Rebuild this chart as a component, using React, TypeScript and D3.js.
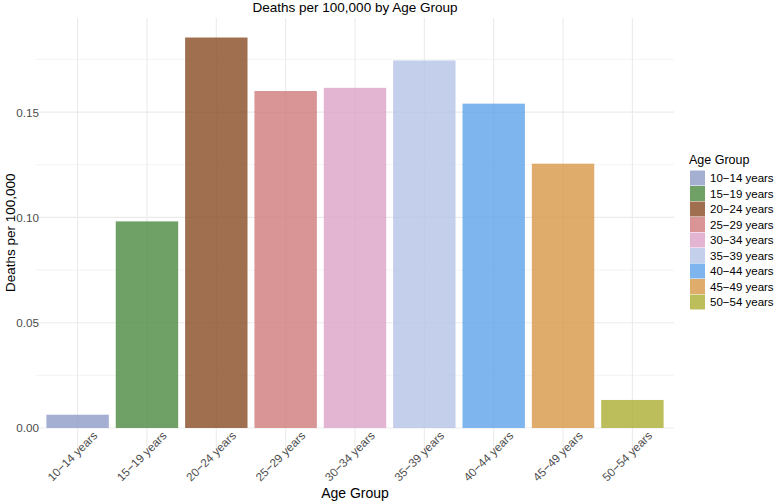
import React from "react";
import * as d3 from "d3";

const ageGroups = [
  "10−14 years",
  "15−19 years",
  "20−24 years",
  "25−29 years",
  "30−34 years",
  "35−39 years",
  "40−44 years",
  "45−49 years",
  "50−54 years",
];
const deathsPer100k = [0.0063, 0.0981, 0.1854, 0.16, 0.1615, 0.1745, 0.154, 0.1255, 0.0133];
const barColors = [
  "#8e9bc7",
  "#4b8940",
  "#884b24",
  "#cf7a7a",
  "#dca2c8",
  "#b4c3e6",
  "#5fa2ea",
  "#d89746",
  "#abae32",
];
const majorTicks = [0, 0.05, 0.1, 0.15];
const minorTicks = [0.025, 0.075, 0.125, 0.175];

const W = 778;
const H = 504;
const FONT = "'Liberation Sans', Arial, Helvetica, sans-serif";

export default function App() {
  const left = 36;
  const right = 674;
  const top = 18;
  const bottom = 447.5;
  const maxV = d3.max(deathsPer100k) as number;
  const x = d3
    .scaleBand<string>()
    .domain(ageGroups)
    .range([left, right])
    .paddingInner(0.1)
    .paddingOuter(0.15);
  const y = d3
    .scaleLinear()
    .domain([-0.05 * maxV, 1.05 * maxV])
    .range([bottom, top]);
  const fmt = d3.format(".2f");
  const grid = "#ebebeb";

  return (
    <svg
      width={W}
      height={H}
      style={{ position: "absolute", left: 0, top: 0, background: "#fff" }}
      fontFamily={FONT}
    >
      <rect x={0} y={0} width={W} height={H} fill="#fff" />
      {/* grid */}
      {minorTicks.map((t) => (
        <line key={"mi" + t} x1={left} x2={right} y1={y(t)} y2={y(t)} stroke={grid} strokeWidth={0.6} />
      ))}
      {majorTicks.map((t) => (
        <line key={"ma" + t} x1={left} x2={right} y1={y(t)} y2={y(t)} stroke={grid} strokeWidth={1.1} />
      ))}
      {ageGroups.map((g) => {
        const cx = (x(g) as number) + x.bandwidth() / 2;
        return <line key={"v" + g} x1={cx} x2={cx} y1={top} y2={bottom} stroke={grid} strokeWidth={1.1} />;
      })}
      {/* bars */}
      {ageGroups.map((g, i) => (
        <rect
          key={"b" + g}
          x={x(g) as number}
          width={x.bandwidth()}
          y={y(deathsPer100k[i])}
          height={y(0) - y(deathsPer100k[i])}
          fill={barColors[i]}
          fillOpacity={0.8}
        />
      ))}
      {/* y tick labels */}
      {majorTicks.map((t) => (
        <text
          key={"yl" + t}
          x={39}
          y={y(t)}
          textAnchor="end"
          dominantBaseline="central"
          fontSize={11.7}
          fill="#4d4d4d"
        >
          {fmt(t)}
        </text>
      ))}
      {/* x tick labels */}
      {ageGroups.map((g) => {
        const cx = (x(g) as number) + x.bandwidth() / 2 - 5.5;
        const cy = 456;
        return (
          <text
            key={"xl" + g}
            x={cx}
            y={cy}
            textAnchor="middle"
            dominantBaseline="central"
            fontSize={11.7}
            fill="#4d4d4d"
            transform={`rotate(-45 ${cx} ${cy})`}
          >
            {g}
          </text>
        );
      })}
      {/* titles */}
      <text x={(left + right) / 2} y={12} textAnchor="middle" fontSize={13.5} fill="#000">
        Deaths per 100,000 by Age Group
      </text>
      <text x={(left + right) / 2} y={498} textAnchor="middle" fontSize={14} fill="#000">
        Age Group
      </text>
      <text
        x={0}
        y={0}
        textAnchor="middle"
        fontSize={13.5}
        fill="#000"
        transform={`translate(15 ${(top + bottom) / 2}) rotate(-90)`}
      >
        Deaths per 100,000
      </text>
      {/* legend */}
      <text x={689} y={164} fontSize={12.5} fill="#000">
        Age Group
      </text>
      {ageGroups.map((g, i) => {
        const cy = 178 + 15.5 * i;
        return (
          <g key={"lg" + g}>
            <rect x={690} y={cy - 7.5} width={15} height={15} fill={barColors[i]} fillOpacity={0.8} />
            <text x={710} y={cy} dominantBaseline="central" fontSize={11.5} fill="#000">
              {g}
            </text>
          </g>
        );
      })}
    </svg>
  );
}
